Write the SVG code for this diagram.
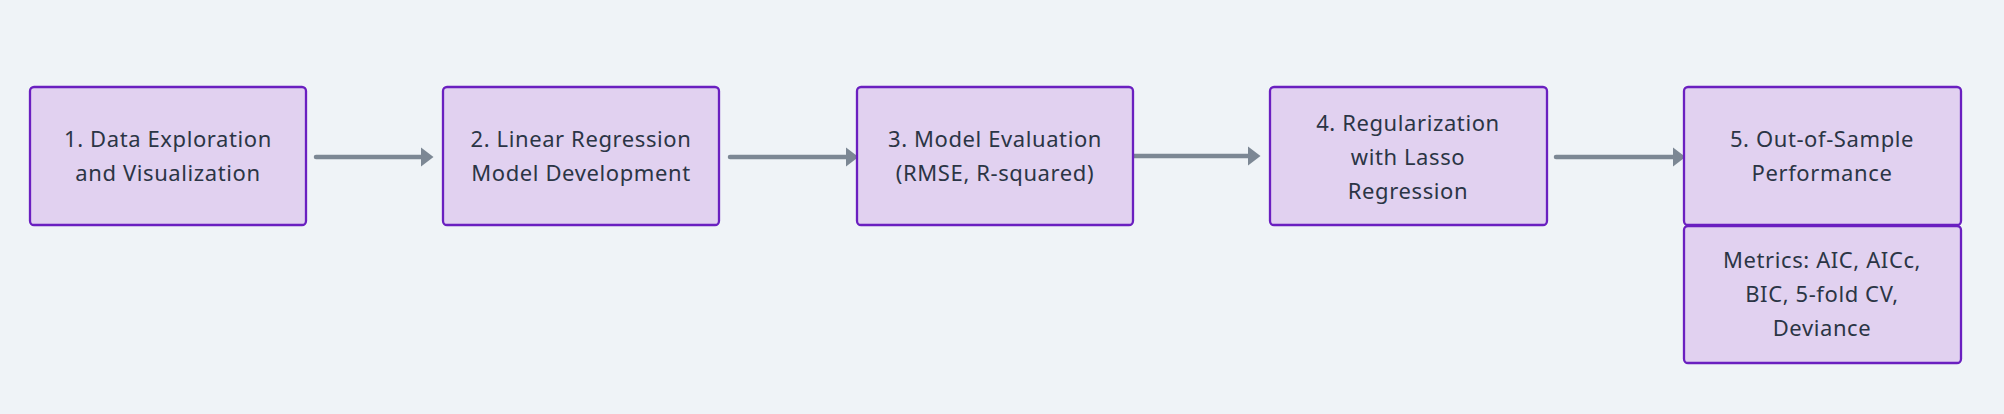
<svg xmlns="http://www.w3.org/2000/svg" width="2004" height="414" viewBox="0 0 2004 414">
<defs>
<style>
.bg{fill:#EFF3F7}
.node rect{fill:#E1D1F0;stroke:#6A1FC0;stroke-width:2.3}
.node text{font-family:"Noto Sans",sans-serif;font-size:22px;letter-spacing:0.6px;fill:#2B3545;text-anchor:middle}
.edge{stroke:#7C8794;stroke-width:4.5;stroke-linecap:round;fill:none}
.head{fill:#7C8794}
</style>
</defs>
<rect class="bg" width="2004" height="414"/>
<g id="connectors">
<line class="edge" x1="316" y1="157" x2="423" y2="157"/>
<path class="head" d="M421,147.5 L433.5,157 L421,166.5 Z"/>
<line class="edge" x1="730" y1="157" x2="848" y2="157"/>
<path class="head" d="M846,147.5 L858.5,157 L846,166.5 Z"/>
<line class="edge" x1="1133" y1="156" x2="1250" y2="156"/>
<path class="head" d="M1248,146.5 L1260.5,156 L1248,165.5 Z"/>
<line class="edge" x1="1556" y1="157" x2="1675" y2="157"/>
<path class="head" d="M1673,147.5 L1685.5,157 L1673,166.5 Z"/>
</g>
<g id="node1" class="node">
<rect x="30" y="87" width="276" height="138" rx="4"/>
<text x="168" y="147">1. Data Exploration</text>
<text x="168" y="181">and Visualization</text>
</g>
<g id="node2" class="node">
<rect x="443" y="87" width="276" height="138" rx="4"/>
<text x="581" y="147">2. Linear Regression</text>
<text x="581" y="181">Model Development</text>
</g>
<g id="node3" class="node">
<rect x="857" y="87" width="276" height="138" rx="4"/>
<text x="995" y="147">3. Model Evaluation</text>
<text x="995" y="181">(RMSE, R-squared)</text>
</g>
<g id="node4" class="node">
<rect x="1270" y="87" width="277" height="138" rx="4"/>
<text x="1408" y="131">4. Regularization</text>
<text x="1408" y="165">with Lasso</text>
<text x="1408" y="199">Regression</text>
</g>
<g id="node5" class="node">
<rect x="1684" y="87" width="277" height="138" rx="4"/>
<text x="1822" y="147">5. Out-of-Sample</text>
<text x="1822" y="181">Performance</text>
</g>
<g id="node5-metrics" class="node">
<rect x="1684" y="226" width="277" height="137" rx="4"/>
<text x="1822" y="268">Metrics: AIC, AICc,</text>
<text x="1822" y="302">BIC, 5-fold CV,</text>
<text x="1822" y="336">Deviance</text>
</g>
</svg>
